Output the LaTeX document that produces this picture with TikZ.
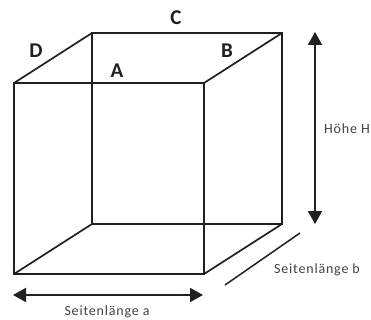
\documentclass[tikz,border=0pt]{standalone}
\usepackage{fontspec}
\setmainfont{Carlito}
\usetikzlibrary{arrows.meta}
\definecolor{inkdark}{HTML}{231F20}
\tikzset{
 edgeline/.style={draw=inkdark,line width=1.7pt,line join=miter},
 measure/.style={draw=inkdark,line width=2pt,{Triangle[length=13pt,width=14pt]}-{Triangle[length=13pt,width=14pt]}},
 facelabel/.style={text=inkdark,font=\fontsize{21}{21}\selectfont\bfseries,inner sep=0pt},
 sizelabel/.style={text=inkdark!85,font=\fontsize{14}{14}\selectfont\addfontfeature{LetterSpace=5.8},inner sep=0pt}
}
\begin{document}
\begin{tikzpicture}[x=1pt,y=-1pt]
\useasboundingbox (0,0) rectangle (371,320);

\def\w{190} \def\h{191} \def\dx{78} \def\dy{50}

% front face
\coordinate (fbl) at (14,274);
\coordinate (fbr) at (14+\w,274);
\coordinate (ftr) at (14+\w,274-\h);
\coordinate (ftl) at (14,274-\h);
% back face
\coordinate (bbl) at (14+\dx,274-\dy);
\coordinate (bbr) at (14+\dx+\w,274-\dy);
\coordinate (btr) at (14+\dx+\w,274-\dy-\h);
\coordinate (btl) at (14+\dx,274-\dy-\h);

\draw[edgeline] (fbl) -- (fbr) -- (ftr) -- (ftl) -- cycle;
\draw[edgeline] (bbl) -- (bbr) -- (btr) -- (btl) -- cycle;
\foreach \a/\b in {fbl/bbl,fbr/bbr,ftr/btr,ftl/btl} \draw[edgeline] (\a) -- (\b);

% measures
\coordinate (al) at (13,295);
\coordinate (ar) at (203,295);
\coordinate (hb) at (315,224);
\coordinate (ht) at (315,32);
\coordinate (bl) at (225,285);
\coordinate (bt) at (300,233);
\draw[measure] (al) -- (ar);
\draw[measure] (hb) -- (ht);
\draw[draw=inkdark,line width=1.5pt] (bl) -- (bt);

% labels
\node[facelabel] (A) at (117,71) {A};
\node[facelabel] (B) at (227,51) {B};
\node[facelabel] (C) at (176,18) {C};
\node[facelabel] (D) at (36,51) {D};
\node[sizelabel] (sa) at (107,312) {Seitenlänge a};
\node[sizelabel] (sb) at (317,270) {Seitenlänge b};
\node[sizelabel] (sh) at (347,129) {Höhe H};

\end{tikzpicture}
\end{document}
